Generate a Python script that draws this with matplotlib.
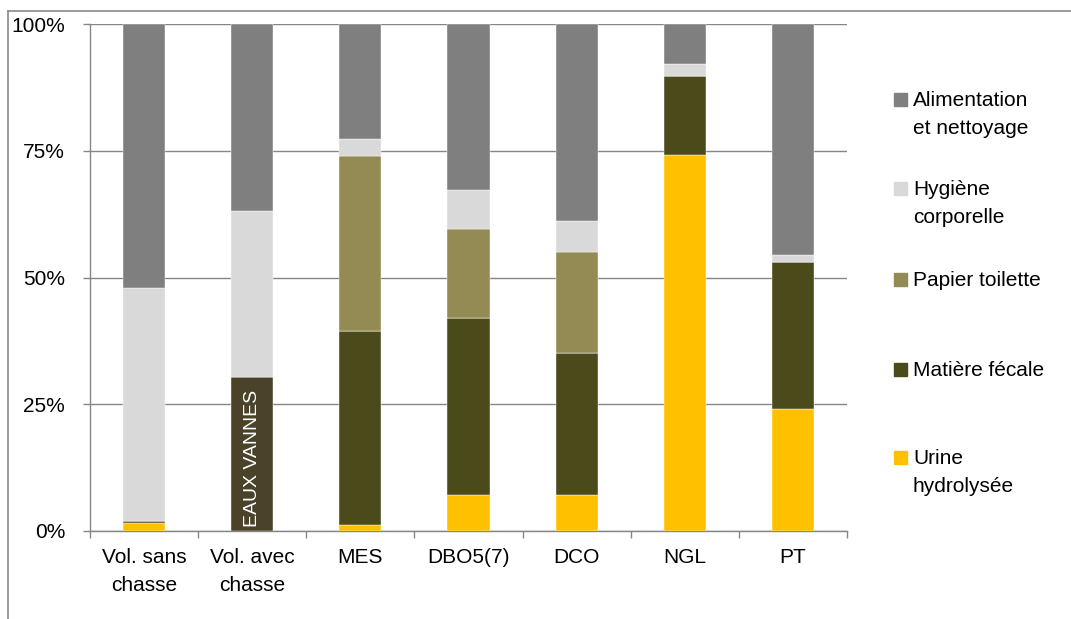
import numpy as np
import matplotlib
matplotlib.use('Agg')
import matplotlib.pyplot as plt
from matplotlib.patches import Rectangle
from matplotlib.lines import Line2D

plt.rcParams['font.family'] = ['Liberation Sans', 'DejaVu Sans']

# === Données (en %) ===
categories = ['Vol. sans\nchasse', 'Vol. avec\nchasse', 'MES', 'DBO5(7)', 'DCO', 'NGL', 'PT']
urine = [1.6, 0, 1.2, 7.1, 7.1, 74.2, 24.0]
fecale = [0.3, 0, 38.3, 34.9, 28.0, 15.6, 29.1]
eaux_vannes = [0, 30.3, 0, 0, 0, 0, 0]
papier = [0, 0, 34.4, 17.6, 20.0, 0, 0]
hygiene = [46.1, 32.9, 3.5, 7.7, 6.0, 2.4, 1.4]
alimentation = [52.0, 36.8, 22.6, 32.7, 38.9, 7.8, 45.5]

series = [
    ('Urine\nhydrolysée', urine, '#ffc000'),
    ('Matière fécale', fecale, '#4b4a1b'),
    ('EAUX VANNES', eaux_vannes, '#4a4329'),
    ('Papier toilette', papier, '#948a54'),
    ('Hygiène\ncorporelle', hygiene, '#d9d9d9'),
    ('Alimentation\net nettoyage', alimentation, '#7f7f7f'),
]
legend_order = ['Alimentation\net nettoyage', 'Hygiène\ncorporelle', 'Papier toilette',
                'Matière fécale', 'Urine\nhydrolysée']

W, H = 1071, 619
fig = plt.figure(figsize=(W / 100, H / 100), dpi=100)
ax = fig.add_axes([90 / W, 1 - 531 / H, (847 - 90) / W, (531 - 24) / H])

x = np.arange(len(categories))
bottom = np.zeros(len(categories))
colors = {}
for name, vals, col in series:
    vals = np.array(vals, dtype=float)
    ax.bar(x, vals, bottom=bottom, width=0.39, color=col, edgecolor='white', linewidth=0.3, zorder=3)
    colors[name] = col
    bottom += vals

# étiquette eaux vannes
i_ev = 1
ax.text(x[i_ev], 0.8, 'EAUX VANNES', rotation=90, ha='center', va='bottom',
        color='white', fontsize=14, zorder=4)

ax.set_xlim(-0.5, len(categories) - 0.5)
ax.set_ylim(0, 100)
ax.set_yticks([0, 25, 50, 75, 100])
ax.set_yticklabels(['0%', '25%', '50%', '75%', '100%'], fontsize=15)
ax.set_xticks(x)
ax.set_xticklabels(categories, fontsize=15, linespacing=1.6)
ax.set_xticks(np.arange(len(categories) + 1) - 0.5, minor=True)
ax.tick_params(axis='x', which='major', length=0, pad=12)
ax.tick_params(axis='x', which='minor', length=5, color='#868686', width=1)
ax.tick_params(axis='y', length=5, color='#868686', width=1, pad=13)

ax.grid(True, axis='y', color='#868686', linewidth=1, zorder=0)
for s in ['top', 'right']:
    ax.spines[s].set_visible(False)
for s in ['left', 'bottom']:
    ax.spines[s].set_color('#868686')
    ax.spines[s].set_linewidth(1)

# === Légende manuelle ===
leg_y = [100, 189, 280, 370, 458]
for name, yy in zip(legend_order, leg_y):
    fig.add_artist(Rectangle((894 / W, 1 - (yy + 6) / H), 13 / W, 13 / H,
                             transform=fig.transFigure, color=colors[name]))
    fig.text(913 / W, 1 - (yy - 9) / H, name, ha='left', va='top', fontsize=15,
             linespacing=1.6)

# cadre de la zone du graphique
fig.add_artist(Line2D([8 / W, 1], [1 - 11 / H, 1 - 11 / H], color='#898989', lw=1.2))
fig.add_artist(Line2D([8 / W, 8 / W], [0, 1 - 11 / H], color='#898989', lw=1.2))

fig.savefig('out.png', dpi=100)
